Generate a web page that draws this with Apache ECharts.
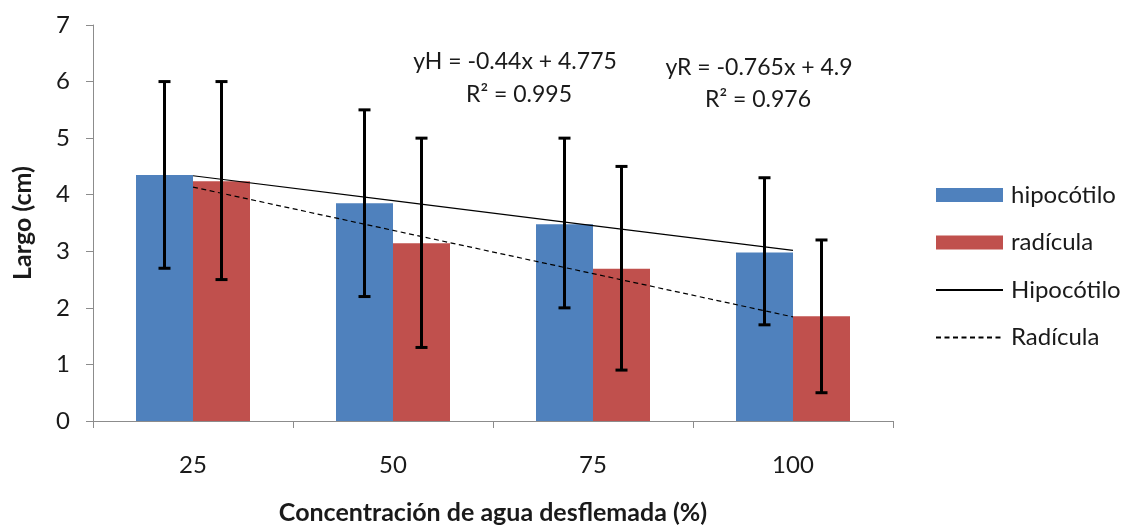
<!DOCTYPE html>
<html>
<head>
<meta charset="utf-8">
<script src="https://cdn.jsdelivr.net/npm/echarts@6/dist/echarts.min.js"></script>
<style>html,body{margin:0;padding:0;background:#fff}#c{width:1123px;height:527px}</style>
</head>
<body>
<div id="c"></div>
<script>
const categories = ['25', '50', '75', '100'];
const hipocotilo = [4.35, 3.85, 3.48, 2.98];
const radicula = [4.24, 3.14, 2.69, 1.85];
const hipLow = [2.7, 2.2, 2.0, 1.7];
const hipHigh = [6.0, 5.5, 5.0, 4.3];
const radLow = [2.5, 1.3, 0.9, 0.5];
const radHigh = [6.0, 5.0, 4.5, 3.2];
const hipTrend = [4.335, 3.895, 3.455, 3.015];
const radTrend = [4.135, 3.37, 2.605, 1.84];
const eqH = ['yH = -0.44x + 4.775', 'R² = 0.995'];
const eqR = ['yR = -0.765x + 4.9', 'R² = 0.976'];

const FONT = 'Lato, "Open Sans", sans-serif';
const TXT = '#1a1a1a';

function errSeries(low, high, seriesIdx) {
  return {
    type: 'custom',
    z: 10,
    data: categories.map((c, i) => [i, low[i], high[i]]),
    renderItem: function (params, api) {
      const i = api.value(0);
      const lo = api.coord([i, api.value(1)]);
      const hi = api.coord([i, api.value(2)]);
      const bw = api.size([1, 0])[0];
      const barW = bw * 0.285;
      const x = lo[0] + (seriesIdx === 0 ? -barW / 2 : barW / 2);
      const cap = 6;
      const style = { stroke: '#000', lineWidth: 3 };
      return {
        type: 'group',
        children: [
          { type: 'line', shape: { x1: x, y1: lo[1], x2: x, y2: hi[1] }, style },
          { type: 'line', shape: { x1: x - cap, y1: lo[1], x2: x + cap, y2: lo[1] }, style },
          { type: 'line', shape: { x1: x - cap, y1: hi[1], x2: x + cap, y2: hi[1] }, style }
        ]
      };
    }
  };
}

const chart = echarts.init(document.getElementById('c'));
chart.setOption({
  animation: false,
  textStyle: { fontFamily: FONT },
  grid: { left: 93, right: 230, top: 25, bottom: 106, containLabel: false, outerBoundsMode: 'none' },
  legend: {
    orient: 'vertical',
    left: 930,
    top: 178,
    itemWidth: 67,
    itemHeight: 14,
    itemGap: 23.5,
    textStyle: { fontSize: 24, color: TXT, fontFamily: FONT, padding: [0, 0, 0, 3], lineHeight: 24 },
    data: [
      { name: 'hipocótilo', icon: 'rect' },
      { name: 'radícula', icon: 'rect' },
      { name: 'Hipocótilo', itemStyle: { opacity: 0 } },
      { name: 'Radícula', itemStyle: { opacity: 0 } }
    ]
  },
  xAxis: {
    type: 'category',
    data: categories,
    name: 'Concentración de agua desflemada (%)',
    nameLocation: 'middle',
    nameGap: 79,
    nameTextStyle: { fontSize: 25, fontWeight: 'bold', color: TXT, fontFamily: FONT },
    axisLine: { lineStyle: { color: '#8c8c8c', width: 1 } },
    axisTick: { show: true, length: 7, lineStyle: { color: '#8c8c8c' } },
    axisLabel: { fontSize: 24, color: TXT, margin: 32 }
  },
  yAxis: {
    type: 'value',
    min: 0, max: 7, interval: 1,
    name: 'Largo (cm)',
    nameLocation: 'middle',
    nameGap: 58,
    nameRotate: 90,
    nameTextStyle: { fontSize: 25, fontWeight: 'bold', color: TXT, fontFamily: FONT },
    axisLine: { show: true, lineStyle: { color: '#8c8c8c', width: 1 } },
    axisTick: { show: true, length: 7, lineStyle: { color: '#8c8c8c' } },
    splitLine: { show: false },
    axisLabel: { fontSize: 24, color: TXT, margin: 23 }
  },
  graphic: [
    { type: 'text', x: 515, y: 62, style: { text: eqH[0], fontSize: 23, fill: TXT, fontFamily: FONT, align: 'center', verticalAlign: 'middle' } },
    { type: 'text', x: 519, y: 95, style: { text: eqH[1], fontSize: 23, fill: TXT, fontFamily: FONT, align: 'center', verticalAlign: 'middle' } },
    { type: 'text', x: 759, y: 68, style: { text: eqR[0], fontSize: 23, fill: TXT, fontFamily: FONT, align: 'center', verticalAlign: 'middle' } },
    { type: 'text', x: 758, y: 100, style: { text: eqR[1], fontSize: 23, fill: TXT, fontFamily: FONT, align: 'center', verticalAlign: 'middle' } }
  ],
  series: [
    { name: 'hipocótilo', type: 'bar', data: hipocotilo, barGap: '0%', barCategoryGap: '43%', itemStyle: { color: '#4F81BD' } },
    { name: 'radícula', type: 'bar', data: radicula, itemStyle: { color: '#C0504D' } },
    { name: 'Hipocótilo', type: 'line', data: hipTrend, symbol: 'none', z: 5, lineStyle: { color: '#000', width: 1.2 }, itemStyle: { color: '#000' } },
    { name: 'Radícula', type: 'line', data: radTrend, symbol: 'none', z: 5, lineStyle: { color: '#000', width: 1.2, type: [5, 3.5] }, itemStyle: { color: '#000' } },
    errSeries(hipLow, hipHigh, 0),
    errSeries(radLow, radHigh, 1)
  ]
});
</script>
</body>
</html>
